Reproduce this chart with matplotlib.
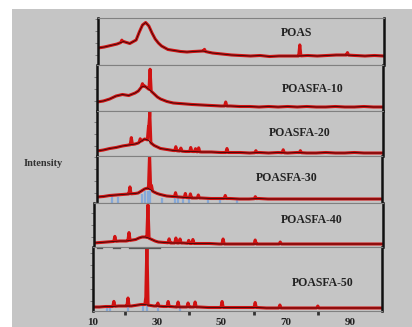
import matplotlib
matplotlib.use("Agg")
import matplotlib.pyplot as plt
import numpy as np
from matplotlib.patches import Rectangle

W, H = 412, 327

# ---- data (2-theta in degrees, intensity in arbitrary units) ----
two_theta = [10, 12, 14, 16, 18, 20, 22, 23, 24, 25, 26, 27, 28, 29, 30, 32, 34, 36, 38, 40,
             43, 46, 49, 52, 55, 58, 61, 64, 67, 70, 73, 76, 79, 82, 85, 88, 91, 94, 97, 100]

samples = ["POAS", "POASFA-10", "POASFA-20", "POASFA-30", "POASFA-40", "POASFA-50"]

bg_poas = [17, 18, 19.5, 21, 23.5, 21.5, 25, 33, 40, 42.5, 39, 32, 26, 22, 19, 15.5, 14.5, 13.5, 13, 13.5,
           14, 12, 11, 10, 9.5, 9, 9.5, 8.5, 9, 9, 9, 9.5, 9, 9.5, 10, 10, 9.5, 9, 9.5, 9]
bg_fa10 = [9, 10, 12, 15, 16.5, 15.5, 18, 20, 24, 25, 22.5, 20, 17, 14, 12, 9.5, 8, 7.5, 7, 6.5,
           6, 5.5, 5, 5, 4.5, 4.5, 4, 4.5, 4, 4.5, 4, 4.5, 4, 4, 4.5, 4, 4, 4.5, 4, 4]
bg_fa20 = [5, 6, 7.5, 8.5, 10, 11, 12, 13, 15, 17, 16, 13, 10.5, 9, 7.5, 6.5, 5.5, 5, 4.5, 4.5,
           4, 4, 3.5, 3.5, 3.5, 3, 3.5, 3, 3.5, 3, 3.5, 3, 3, 3.5, 3, 3, 3.5, 3, 3, 3]
bg_fa30 = [6, 6.5, 7.5, 8, 8.5, 9, 9.5, 10, 12, 14, 15, 13, 11, 9.5, 8.5, 7, 6.5, 6, 5.5, 5,
           5, 4.5, 4.5, 4.5, 4, 4, 4.5, 4, 4, 4, 4, 4, 4, 4, 4, 4, 4, 4, 4, 4]
bg_fa40 = [4, 4.5, 5, 5.5, 6, 6, 7, 7.5, 9, 10, 10, 9, 7.5, 6, 5, 4.5, 4, 4, 4, 3.5,
           3.5, 3.5, 3, 3, 3, 3, 3, 3, 3, 3, 3, 3, 3, 3, 3, 3, 3, 3, 3, 3]
bg_fa50 = [4, 4, 4.5, 4.5, 5, 5, 5, 5.5, 6, 6.5, 6.5, 6, 5.5, 5, 5, 4.5, 4.5, 4, 4, 4,
           4, 3.5, 3.5, 3.5, 3.5, 3.5, 3.5, 3, 3, 3, 3, 3, 3, 3, 3, 3, 3, 3, 3, 3]

# sharp reflections: position, height above background
pk_poas_pos = [17.5, 43.5, 73.5, 88.5]
pk_poas_h = [2, 2, 11, 2.5]
pk_fa10_pos = [24.3, 26.7, 50.5]
pk_fa10_h = [3, 21, 4]
pk_fa20_pos = [20.8, 23.6, 26.2, 26.6, 34.8, 36.4, 39.5, 41, 42, 50.9, 60, 68.6, 74]
pk_fa20_h = [7, 3, 14, 30, 4, 3, 4, 3, 4, 4, 2, 3, 2]
pk_fa30_pos = [20.4, 26.6, 27.2, 34.8, 37.9, 39.5, 42, 50.5, 60]
pk_fa30_h = [7, 35, 5, 4, 4, 4, 3, 3, 2]
pk_fa40_pos = [16.5, 20.9, 26.8, 33.4, 35.5, 36.8, 39.5, 40.8, 50.2, 60.2, 68]
pk_fa40_h = [5, 8, 33, 4, 5, 4, 3, 4, 5, 4, 2]
pk_fa50_pos = [16.5, 20.9, 26.5, 26.8, 30.2, 33.4, 36.5, 39.6, 41.8, 50.2, 60.5, 68.2, 80]
pk_fa50_h = [5, 8, 9, 62, 3, 5, 5, 4, 5, 6, 5, 3, 2]

# reference pattern sticks (blue)
stick_fa30_pos = [14.7, 16.6, 24.2, 25.1, 26.0, 26.7, 30.4, 34.5, 35.5, 37.0, 39.2, 44.9, 48.7, 54.3]
stick_fa30_h = [7, 6, 9, 12, 12, 32, 5, 6, 6, 5, 4, 4, 4, 3]
stick_fa50_pos = [14.4, 15.3, 20.9, 25.6, 26.8, 30.2, 37.1]
stick_fa50_h = [4, 5, 6, 5, 7, 3, 4]

backgrounds = [bg_poas, bg_fa10, bg_fa20, bg_fa30, bg_fa40, bg_fa50]
peak_pos = [pk_poas_pos, pk_fa10_pos, pk_fa20_pos, pk_fa30_pos, pk_fa40_pos, pk_fa50_pos]
peak_h = [pk_poas_h, pk_fa10_h, pk_fa20_h, pk_fa30_h, pk_fa40_h, pk_fa50_h]
sticks = {3: (stick_fa30_pos, stick_fa30_h), 5: (stick_fa50_pos, stick_fa50_h)}

# ---- layout in pixels: left, top, right, bottom ----
boxes = [(98, 18, 384, 65), (97, 65, 383, 111), (97, 111, 383, 156),
         (97, 156, 382, 203), (94, 203, 383, 247), (93, 247, 382, 311)]
label_xy = [(297, 33), (313, 89), (300, 133), (287, 178), (312, 220), (323, 283)]

GRAY = '#c5c5c5'
fig = plt.figure(figsize=(W / 100, H / 100), dpi=100)
fig.patch.set_facecolor('white')
bgrect = Rectangle((12 / W, 0), 1 - 12 / W, 1 - 9 / H, transform=fig.transFigure,
                   facecolor=GRAY, edgecolor='none', zorder=-10)
fig.patches.append(bgrect)

serif = ['Liberation Serif', 'DejaVu Serif']
hw = 0.35  # half width of a sharp reflection

axes = []
for i, (l, t, r, b) in enumerate(boxes):
    ax = fig.add_axes([l / W, 1 - b / H, (r - l) / W, (b - t) / H])
    ax.set_facecolor(GRAY)
    tt = np.array(two_theta, float)
    bg = np.array(backgrounds[i], float)
    pos = np.array(peak_pos[i], float)
    hh = np.array(peak_h[i], float)
    xs = np.unique(np.concatenate([tt, pos - hw, pos, pos + hw]))
    ys = np.interp(xs, tt, bg)
    for p, h in zip(pos, hh):
        ys = ys + np.clip(h * (1 - np.abs(xs - p) / hw), 0, None)
    if i in sticks:
        sp, sh = sticks[i]
        ax.vlines(sp, 0, sh, colors='#86a9d8', lw=1.6, zorder=1)
    ax.plot(xs, ys, color='#d01212', lw=2.2, zorder=2, solid_joinstyle='round')
    ax.plot(tt, bg, color='#2a0808', lw=0.55, zorder=3)
    ax.set_xlim(10, 100)
    ax.set_ylim(0, b - t)
    for s in ['left', 'right']:
        ax.spines[s].set_color('#111111')
        ax.spines[s].set_linewidth(1.8)
    for s in ['top', 'bottom']:
        ax.spines[s].set_color('#808080')
        ax.spines[s].set_linewidth(0.8)
    ax.set_yticks(np.arange(10, b - t, 12))
    ax.tick_params(axis='y', length=2, width=0.6, color='#707070', labelleft=False)
    ax.set_xticks([])
    fx, fy = label_xy[i]
    fig.text(fx / W, 1 - fy / H, samples[i], ha='center', va='center', fontsize=8.5,
             fontweight='bold', family=serif, color='#222222')
    axes.append(ax)

# bottom panel x axis
axb = axes[-1]
axb.set_xticks([10, 30, 50, 70, 90])
axb.set_xticklabels(['10', '30', '50', '70', '90'], fontsize=8, fontweight='bold',
                    family=serif, color='#222222')
axb.set_xticks([20, 40, 60, 80], minor=True)
axb.tick_params(axis='x', which='major', length=0, pad=5)
axb.tick_params(axis='x', which='minor', length=3, width=2, color='#333333', direction='out')

# stray rule between the two lower panels
rule_x = [[11.2, 12.8], [16.2, 18.3], [21.3, 31.0]]
for seg in rule_x:
    axb.plot(seg, [63.5, 63.5], color='#555555', lw=0.9, clip_on=False, zorder=4)

fig.text(43 / W, 1 - 163 / H, 'Intensity', ha='center', va='center', fontsize=7.5,
         fontweight='bold', family=serif, color='#333333')

plt.savefig('out.png', dpi=100, facecolor='white')
